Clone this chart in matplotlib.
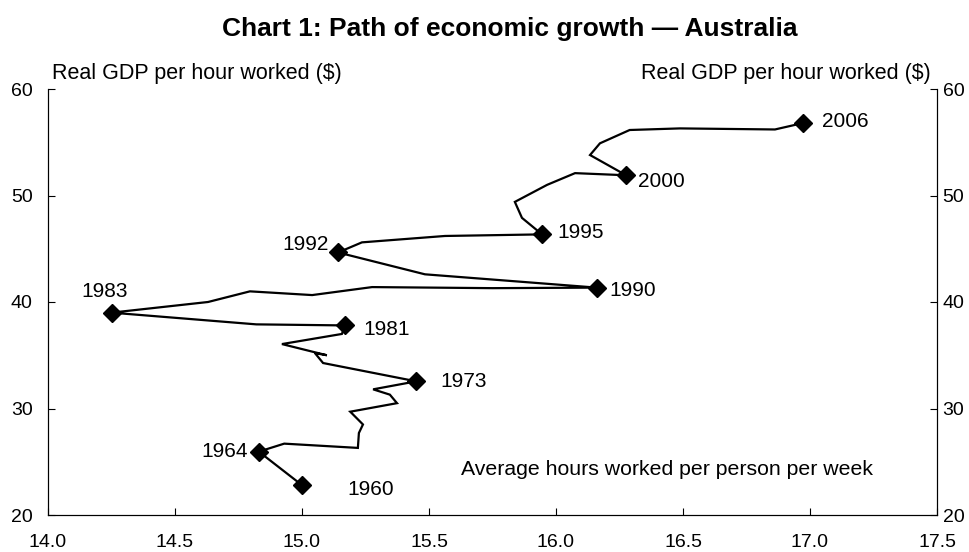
import matplotlib
matplotlib.use("Agg")
import matplotlib.pyplot as plt

plt.rcParams['font.family'] = ['Liberation Sans', 'DejaVu Sans']

# Hours worked per person per week (x) and real GDP per hour worked (y)
hours = [15.00, 14.83, 14.93, 15.22, 15.224, 15.24, 15.19, 15.374, 15.346, 15.28, 15.45,
         15.083, 15.051, 15.098, 15.047, 14.921, 15.157, 15.17, 14.82, 14.25,
         14.63, 14.795, 15.04, 15.276, 15.75, 16.16, 15.484, 15.142,
         15.236, 15.563, 15.945, 15.866, 15.838, 15.965, 16.075, 16.276,
         16.134, 16.173, 16.29, 16.488, 16.862, 16.972]
gdp = [22.8, 25.95, 26.7, 26.3, 27.7, 28.5, 29.7, 30.5, 31.3, 31.8, 32.55,
       34.27, 35.2, 35.0, 35.3, 36.05, 37.0, 37.8, 37.9, 39.0,
       40.0, 41.0, 40.65, 41.4, 41.3, 41.35, 42.6, 44.65,
       45.6, 46.2, 46.35, 47.9, 49.4, 51.0, 52.1, 51.9,
       53.8, 54.9, 56.15, 56.3, 56.2, 56.8]

# Labelled years
label_years = ['1960', '1964', '1973', '1981', '1983', '1990', '1992', '1995', '2000', '2006']
label_hours = [15.00, 14.83, 15.45, 15.17, 14.25, 16.16, 15.142, 15.945, 16.276, 16.972]
label_gdp = [22.8, 25.95, 32.55, 37.8, 39.0, 41.35, 44.65, 46.35, 51.9, 56.8]

x_ticks = [14.0, 14.5, 15.0, 15.5, 16.0, 16.5, 17.0, 17.5]
y_ticks = [20, 30, 40, 50, 60]

fig = plt.figure(figsize=(9.69, 5.52), dpi=100)
ax = fig.add_axes([48/969, 1-515/552, (937-48)/969, (515-89)/552])

ax.plot(hours, gdp, color='black', lw=1.6, solid_joinstyle='miter', zorder=2)
ax.plot(label_hours, label_gdp, ls='none', marker='D', ms=9, color='black', zorder=3)

# label placement: offsets in points and alignment
offsets = {
    '1960': (33, -3, 'left'),
    '1964': (-8, 0, 'right'),
    '1973': (17, 0, 'left'),
    '1981': (13, -3, 'left'),
    '1983': (-5, 15, 'center'),
    '1990': (9, -2, 'left'),
    '1992': (-6.5, 6, 'right'),
    '1995': (11, 1.5, 'left'),
    '2000': (8.5, -4.3, 'left'),
    '2006': (13.5, 1.4, 'left'),
}
for yr, hx, gy in zip(label_years, label_hours, label_gdp):
    dx, dy, ha = offsets[yr]
    ax.annotate(yr, (hx, gy), xytext=(dx, dy), textcoords='offset points',
                ha=ha, va='center', fontsize=15)

ax.set_xlim(14.0, 17.5)
ax.set_ylim(20, 60)
ax.set_xticks(x_ticks)
ax.set_xticklabels([f"{v:.1f}" for v in x_ticks])
ax.set_yticks(y_ticks)
ax.tick_params(axis='both', direction='in', length=5, width=0.8, labelsize=14)
ax.tick_params(axis='x', pad=14)
ax.tick_params(axis='y', left=True, right=False, pad=11)
ax.spines['top'].set_visible(False)
for s in ['left', 'right', 'bottom']:
    ax.spines[s].set_linewidth(0.8)

ax2 = ax.twinx()
ax2.set_ylim(20, 60)
ax2.set_yticks(y_ticks)
ax2.tick_params(axis='y', direction='in', length=5, width=0.8, labelsize=14, pad=4)
ax2.spines['top'].set_visible(False)
ax2.spines['right'].set_linewidth(0.8)

fig.text(52/969, 1-73/552, 'Real GDP per hour worked ($)', fontsize=15.5, ha='left', va='center')
fig.text(931/969, 1-73/552, 'Real GDP per hour worked ($)', fontsize=15.5, ha='right', va='center')
ax.text(15.625, 24.25, 'Average hours worked per person per week', fontsize=15.3, ha='left', va='center')
fig.text(510/969, 1-29/552, 'Chart 1: Path of economic growth \u2014 Australia', fontsize=19,
         fontweight='bold', ha='center', va='center')

fig.savefig('out.png', dpi=100)
